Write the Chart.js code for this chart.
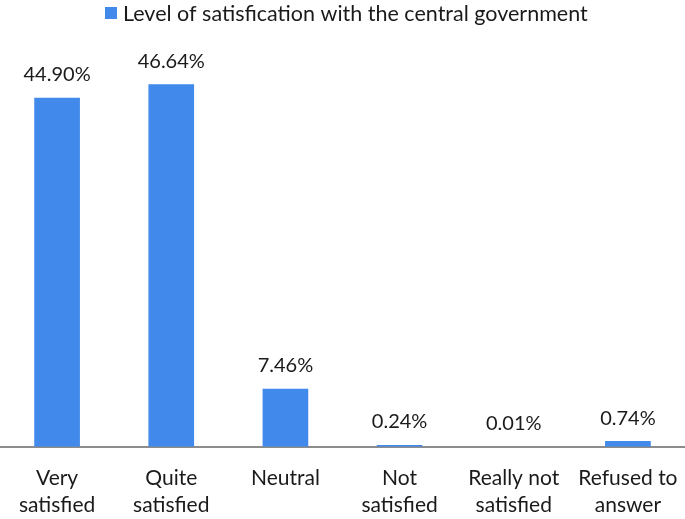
<!DOCTYPE html>
<html>
<head>
<meta charset="utf-8">
<script src="https://cdn.jsdelivr.net/npm/chart.js@4/dist/chart.umd.min.js"></script>
<style>
  html, body { margin: 0; padding: 0; background: #fff; }
  #wrap { width: 685px; height: 519px; position: relative; }
</style>
</head>
<body>
<div id="wrap"><canvas id="chart"></canvas></div>
<script>
const categories = [
    ['Very', 'satisfied'],
    ['Quite', 'satisfied'],
    ['Neutral'],
    ['Not', 'satisfied'],
    ['Really not', 'satisfied'],
    ['Refused to', 'answer']
];
const shares = [44.90, 46.64, 7.46, 0.24, 0.01, 0.74];
const seriesName = 'Level of satisfication with the central government';

const FONT = 'Lato, "Open Sans", sans-serif';
const barColor = '#4189ea';

// value labels above each bar
const valueLabels = {
    id: 'valueLabels',
    afterDatasetsDraw(chart) {
        const ctx = chart.ctx;
        const meta = chart.getDatasetMeta(0);
        ctx.save();
        ctx.font = '20px ' + FONT;
        ctx.fillStyle = '#1a1a1a';
        ctx.textAlign = 'center';
        ctx.textBaseline = 'middle';
        meta.data.forEach((bar, i) => {
            ctx.fillText(shares[i].toFixed(2) + '%', bar.x, bar.y - 23);
        });
        ctx.restore();
    }
};

// legend drawn by hand so it sits where the original one does
const topLegend = {
    id: 'topLegend',
    afterDraw(chart) {
        const ctx = chart.ctx;
        ctx.save();
        ctx.fillStyle = barColor;
        ctx.fillRect(105, 7, 12, 12);
        ctx.font = '21.5px ' + FONT;
        ctx.fillStyle = '#1a1a1a';
        ctx.textAlign = 'left';
        ctx.textBaseline = 'middle';
        ctx.fillText(chart.data.datasets[0].label, 123, 14);
        ctx.restore();
    }
};

new Chart(document.querySelector('#chart').getContext('2d'), {
    type: 'bar',
    data: {
        labels: categories,
        datasets: [
            {
                label: seriesName,
                data: shares,
                backgroundColor: barColor,
                barPercentage: 0.4,
                categoryPercentage: 1
            }
        ]
    },
    options: {
        responsive: true,
        maintainAspectRatio: false,
        animation: false,
        layout: { padding: { top: 58, left: 0, right: 0, bottom: 0 } },
        plugins: {
            legend: { display: false },
            tooltip: { enabled: false }
        },
        scales: {
            x: {
                // grid hidden, but tickLength still pushes the labels down
                grid: { display: false, drawTicks: true, tickLength: 18 },
                border: { display: true, color: '#8c8c8c', width: 2 },
                ticks: {
                    color: '#1a1a1a',
                    padding: 0,
                    maxRotation: 0,
                    autoSkip: false,
                    font: { family: FONT, size: 21, lineHeight: 1.29 }
                }
            },
            y: {
                display: false,
                min: 0,
                max: 50
            }
        }
    },
    plugins: [valueLabels, topLegend]
});
</script>
</body>
</html>
